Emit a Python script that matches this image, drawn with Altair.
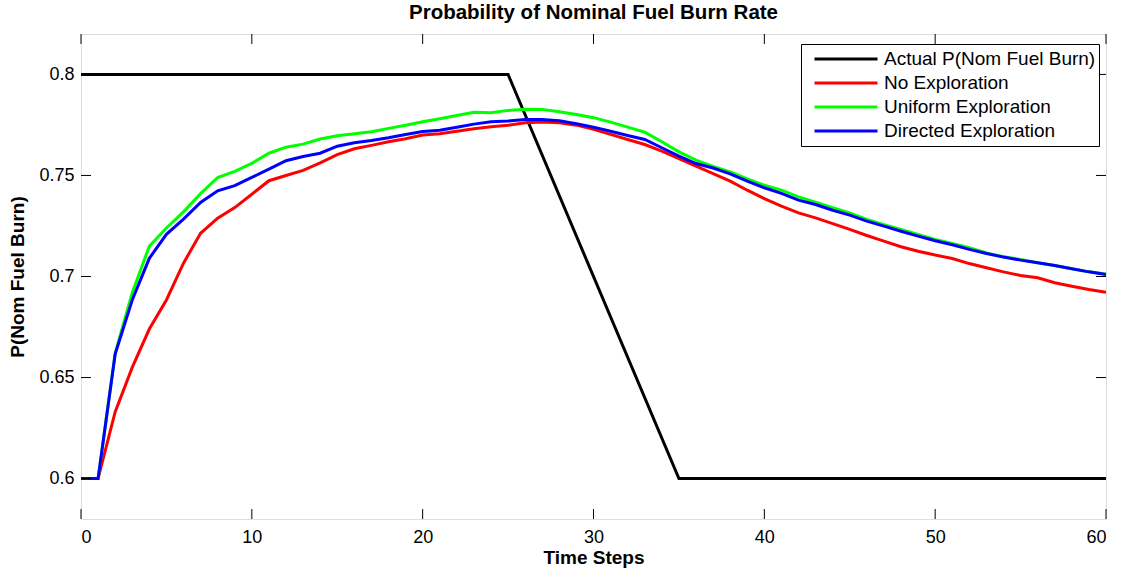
import altair as alt
import pandas as pd

steps = list(range(61))

no_exploration = [0.6, 0.6, 0.633, 0.655, 0.674, 0.6884, 0.7066, 0.7214, 0.7289, 0.7341,
                  0.7407, 0.7474, 0.75, 0.7525, 0.7562, 0.7603, 0.7632, 0.7649, 0.7667, 0.7682,
                  0.77, 0.7706, 0.7719, 0.7731, 0.7741, 0.7748, 0.7761, 0.7764, 0.7761, 0.7749,
                  0.7728, 0.7703, 0.7678, 0.7653, 0.762, 0.7583, 0.7546, 0.7509, 0.7472, 0.7427,
                  0.7385, 0.7348, 0.7315, 0.729, 0.7262, 0.7233, 0.7203, 0.7175, 0.7147, 0.7125,
                  0.7106, 0.7089, 0.7064, 0.7043, 0.7023, 0.7005, 0.6994, 0.6969, 0.6952, 0.6936,
                  0.6922]

uniform_exploration = [0.6, 0.6, 0.662, 0.692, 0.715, 0.724, 0.732, 0.741, 0.749, 0.752,
                       0.756, 0.761, 0.764, 0.7655, 0.768, 0.7696, 0.7706, 0.7716, 0.7733, 0.7748,
                       0.7766, 0.7781, 0.7797, 0.7813, 0.781, 0.7822, 0.7828, 0.7827, 0.7815, 0.7802,
                       0.7786, 0.7764, 0.7739, 0.7714, 0.7667, 0.7617, 0.7576, 0.7545, 0.7518, 0.7483,
                       0.7452, 0.7427, 0.7394, 0.7368, 0.734, 0.7315, 0.7282, 0.7257, 0.7233, 0.7208,
                       0.7183, 0.7163, 0.7142, 0.7117, 0.7098, 0.7084, 0.7068, 0.7054, 0.7038, 0.7023,
                       0.7012]

directed_exploration = [0.6, 0.6, 0.6616, 0.6884, 0.709, 0.7209, 0.7284, 0.7366, 0.7424, 0.745,
                        0.749, 0.7531, 0.7573, 0.7594, 0.761, 0.7645, 0.7662, 0.7673, 0.7687, 0.7703,
                        0.7718, 0.7724, 0.7739, 0.7754, 0.7766, 0.7769, 0.7777, 0.7777, 0.7771, 0.7756,
                        0.7739, 0.7719, 0.7698, 0.7678, 0.7637, 0.7596, 0.7559, 0.7537, 0.7508, 0.7472,
                        0.7439, 0.7411, 0.7378, 0.7356, 0.7328, 0.7304, 0.7274, 0.7249, 0.7224, 0.72,
                        0.7177, 0.7157, 0.7134, 0.7114, 0.7096, 0.7081, 0.7068, 0.7054, 0.7038, 0.7023,
                        0.701]

actual_steps = [0, 25, 35, 60]
actual_values = [0.8, 0.8, 0.6, 0.6]

series_names = ["Actual P(Nom Fuel Burn)", "No Exploration", "Uniform Exploration", "Directed Exploration"]
series_colors = ["#000000", "#ff0000", "#00ff00", "#0000ff"]

x_ticks = [0, 10, 20, 30, 40, 50, 60]
y_ticks = [0.6, 0.65, 0.7, 0.75, 0.8]

rows = []
for t, v in zip(actual_steps, actual_values):
    rows.append({"t": t, "p": v, "series": series_names[0]})
for name, vals in zip(series_names[1:], [no_exploration, uniform_exploration, directed_exploration]):
    for t, v in zip(steps, vals):
        rows.append({"t": t, "p": v, "series": name})
df = pd.DataFrame(rows)

W, H = 1025, 485
FONT = "Liberation Sans"

x_scale = alt.Scale(domain=[0, 60], nice=False, zero=False)
y_scale = alt.Scale(domain=[0.58, 0.82], nice=False, zero=False)
color_scale = alt.Scale(domain=series_names, range=series_colors)

x_enc = alt.X("t:Q", scale=x_scale,
              axis=alt.Axis(values=x_ticks, title="Time Steps", tickSize=0, labelPadding=9,
                            domain=False, grid=False, labelFontSize=18, labelFont=FONT,
                            labelColor="black", titleFont=FONT, titleFontSize=19,
                            titleFontWeight="bold", titleColor="black",
                            titleY=44, titleBaseline="alphabetic"))
y_enc = alt.Y("p:Q", scale=y_scale,
              axis=alt.Axis(values=y_ticks, format=".2~f", title="P(Nom Fuel Burn)", tickSize=0,
                            labelPadding=7, domain=False, grid=False, labelFontSize=18,
                            labelFont=FONT, labelColor="black", titleFont=FONT, titleFontSize=19,
                            titleFontWeight="bold", titleColor="black",
                            titleX=-58, titleBaseline="alphabetic"))
color_enc = alt.Color("series:N", scale=color_scale,
                      legend=alt.Legend(title=None, orient="none", legendX=720, legendY=10,
                                        fillColor="white", strokeColor="black",
                                        padding=3, clipHeight=24, rowPadding=0,
                                        symbolType="stroke", symbolStrokeWidth=3, symbolSize=3969,
                                        symbolOffset=9, labelOffset=5,
                                        labelFontSize=19, labelFont=FONT, labelColor="black",
                                        labelLimit=400, zindex=1))

base = alt.Chart(df)
layers = []
for name in series_names:
    layers.append(
        base.transform_filter(alt.datum.series == name)
        .mark_line(strokeWidth=3, clip=True)
        .encode(x=x_enc, y=y_enc, color=color_enc)
    )

xt = pd.DataFrame({"t": x_ticks})
yt = pd.DataFrame({"p": y_ticks})
tick_style = dict(color="black", strokeWidth=1)
top_ticks = alt.Chart(xt).mark_rule(**tick_style).encode(
    x=alt.X("t:Q", scale=x_scale), y=alt.value(0), y2=alt.value(10))
bottom_ticks = alt.Chart(xt).mark_rule(**tick_style).encode(
    x=alt.X("t:Q", scale=x_scale), y=alt.value(H), y2=alt.value(H - 10))
left_ticks = alt.Chart(yt).mark_rule(**tick_style).encode(
    y=alt.Y("p:Q", scale=y_scale), x=alt.value(0), x2=alt.value(10))
right_ticks = alt.Chart(yt).mark_rule(**tick_style).encode(
    y=alt.Y("p:Q", scale=y_scale), x=alt.value(W), x2=alt.value(W - 10))

chart = alt.layer(*layers, top_ticks, bottom_ticks, left_ticks, right_ticks).properties(
    width=W, height=H,
    title=alt.Title("Probability of Nominal Fuel Burn Rate", font=FONT, fontSize=20.5,
                    fontWeight="bold", color="black", offset=10),
    autosize="none",
    padding={"left": 81, "top": 34, "right": 16, "bottom": 54},
).configure_view(stroke="black", strokeWidth=1.5).configure(background="white")

chart.save("out.html", embed_options={"renderer": "svg", "actions": False})
